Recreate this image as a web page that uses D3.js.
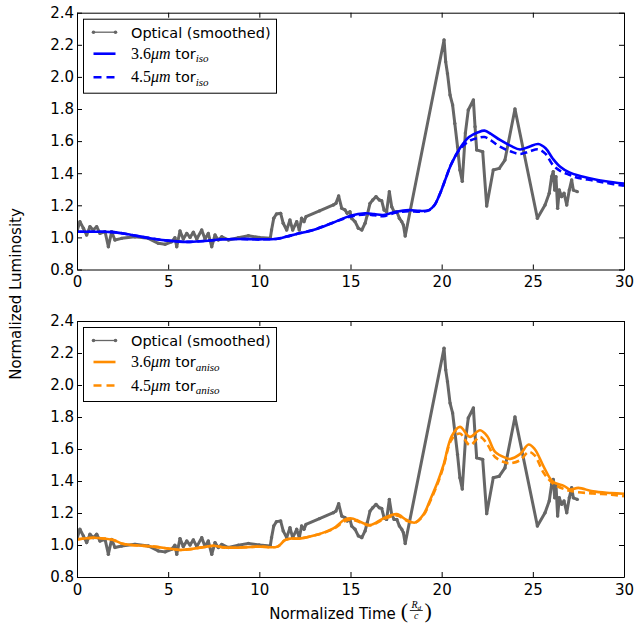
<!DOCTYPE html>
<html>
<head>
<meta charset="utf-8">
<script src="https://cdn.jsdelivr.net/npm/d3@7"></script>
<style>
  html, body { margin: 0; padding: 0; background: #fff; }
  svg text { font-family: "DejaVu Sans", sans-serif; fill: #000; }
</style>
</head>
<body>
<svg id="chart" width="636" height="624"></svg>
<script>
// Optical light curve (smoothed): [time, luminosity]
const optical = [
  [0,1.04],[0.16,1.098],[0.35,1.057],[0.53,1.015],[0.71,1.067],[0.89,1.046],[1.08,1.067],[1.26,1.025],
  [1.54,1.035],[1.72,0.942],[1.90,1.035],[2.08,0.984],[2.45,0.994],[3.18,1.004],[3.91,0.994],[4.46,0.963],
  [4.83,0.957],[5.19,0.973],[5.37,0.998],[5.47,0.942],[5.65,1.04],[5.83,0.99],[6.02,1.025],[6.20,1.0],
  [6.38,1.032],[6.57,0.99],[6.84,1.046],[7.02,0.99],[7.20,1.025],[7.39,0.942],[7.57,1.015],[7.75,0.984],
  [7.94,1.004],[8.30,0.984],[8.85,0.998],[9.40,1.01],[10.0,1.0],[10.6,0.994],[10.67,1.046],[10.79,1.119],
  [10.94,1.146],[11.17,1.15],[11.31,1.088],[11.50,1.046],[11.68,1.108],[11.83,1.046],[12.05,1.098],[12.19,1.046],
  [12.32,1.119],[12.45,1.098],[12.56,1.129],[13.3,1.165],[14.06,1.202],[14.20,1.212],[14.35,1.258],[14.52,1.181],
  [14.70,1.171],[14.82,1.15],[14.97,1.16],[15.06,1.119],[15.25,1.098],[15.43,1.057],[15.62,1.046],[15.80,1.088],
  [15.92,1.14],[16.07,1.212],[16.22,1.233],[16.40,1.254],[16.58,1.233],[16.71,1.229],[16.84,1.171],[16.98,1.16],
  [17.13,1.285],[17.26,1.191],[17.39,1.16],[17.54,1.16],[17.68,1.119],[17.81,1.098],[17.90,1.077],[18.0,1.009],
  [20.13,2.23],[20.22,2.095],[20.32,2.02],[20.46,1.887],[20.60,1.825],[20.72,1.71],[20.87,1.565],[21.0,1.42],
  [21.13,1.35],[21.3,1.65],[21.46,1.794],[21.74,1.856],[21.83,1.69],[21.92,1.545],[22.25,1.534],[22.47,1.196],
  [22.83,1.42],[23.16,1.43],[23.47,1.482],[24.02,1.8],[25.25,1.119],[25.67,1.202],[25.90,1.275],[26.03,1.378],
  [26.12,1.41],[26.2,1.295],[26.27,1.378],[26.36,1.181],[26.45,1.295],[26.58,1.254],[26.71,1.275],[26.86,1.202],
  [27.0,1.295],[27.13,1.358],[27.22,1.295],[27.44,1.285]
];

// Isotropic torus model, 3.6 and 4.5 micron
const isoTime = [0,1,2,3,4,5,6,7,8,9,10,11,11.5,12,13,14,15,15.8,16.3,16.8,17.5,18.2,18.8,19.3,19.6,19.9,20.2,20.5,
  21,21.5,22,22.35,22.7,23.2,23.8,24.3,24.8,25.3,25.7,26.1,26.5,27,27.5,28.3,29,30];
const iso36 = [1.035,1.035,1.033,1.015,0.995,0.98,0.972,0.978,0.988,0.99,0.988,0.992,1.005,1.02,1.048,1.09,1.135,
  1.15,1.145,1.14,1.16,1.17,1.165,1.17,1.2,1.27,1.36,1.45,1.555,1.625,1.655,1.665,1.645,1.607,1.57,1.548,1.565,
  1.582,1.555,1.49,1.44,1.405,1.385,1.364,1.35,1.335];
const iso45 = [1.035,1.035,1.033,1.015,0.995,0.98,0.972,0.978,0.988,0.99,0.988,0.992,1.005,1.02,1.048,1.09,1.13,
  1.143,1.138,1.132,1.155,1.163,1.16,1.168,1.2,1.27,1.36,1.45,1.55,1.6,1.62,1.625,1.605,1.565,1.535,1.52,1.535,
  1.549,1.52,1.451,1.415,1.39,1.37,1.355,1.34,1.322];

// Anisotropic torus model, 3.6 and 4.5 micron
const anisoTime = [0,0.9,1.5,2,2.5,3,4.2,5,5.65,6.3,7.1,7.5,8,8.6,10,11,11.4,11.7,12.2,13.1,14.06,14.7,15.07,15.34,
  16.07,16.8,17.53,18.08,18.54,19,19.36,19.8,20.1,20.55,21,21.55,22.1,22.5,22.93,23.5,23.75,24.3,24.77,25.1,25.6,
  26.1,26.7,27.04,27.5,28.3,29.3,30];
const aniso36 = [1.035,1.045,1.04,1.031,1.008,1.0,0.99,0.978,0.969,0.975,0.99,0.995,0.985,0.983,0.99,0.99,1.03,1.04,
  1.04,1.062,1.104,1.16,1.166,1.156,1.125,1.166,1.193,1.156,1.14,1.19,1.28,1.4,1.5,1.68,1.738,1.676,1.717,1.68,
  1.582,1.545,1.538,1.568,1.628,1.6,1.489,1.395,1.37,1.347,1.357,1.335,1.325,1.32];
const aniso45 = [1.035,1.045,1.04,1.031,1.008,1.0,0.99,0.978,0.969,0.975,0.99,0.995,0.985,0.983,0.99,0.99,1.03,1.04,
  1.04,1.062,1.1,1.15,1.158,1.15,1.122,1.16,1.185,1.152,1.14,1.185,1.27,1.39,1.49,1.66,1.697,1.624,1.676,1.63,
  1.55,1.515,1.51,1.53,1.582,1.56,1.45,1.385,1.35,1.339,1.33,1.322,1.315,1.305];

const xTicks = [0, 5, 10, 15, 20, 25, 30];
const yTicks = [0.8, 1.0, 1.2, 1.4, 1.6, 1.8, 2.0, 2.2, 2.4];

const svg = d3.select("#chart");
const x = d3.scaleLinear().domain([0, 30]).range([77, 624]);
const FS = 15;

const panels = [
  { top: 12.7, bottom: 269.5, color: "#0000ff", sub: "iso", time: isoTime, s36: iso36, s45: iso45 },
  { top: 321, bottom: 577, color: "#ff8c00", sub: "aniso", time: anisoTime, s36: aniso36, s45: aniso45 }
];

panels.forEach(p => {
  const y = d3.scaleLinear().domain([0.8, 2.4]).range([p.bottom, p.top]);
  const g = svg.append("g");

  // clip to axes
  const clipId = "clip-" + p.sub;
  svg.append("clipPath").attr("id", clipId).append("rect")
    .attr("x", x(0)).attr("y", p.top).attr("width", x(30) - x(0)).attr("height", p.bottom - p.top);

  const plot = g.append("g").attr("clip-path", `url(#${clipId})`);

  // optical curve
  const optLine = d3.line().x(d => x(d[0])).y(d => y(d[1]));
  plot.append("path").datum(optical)
    .attr("d", optLine).attr("fill", "none")
    .attr("stroke", "#666").attr("stroke-width", 3).attr("stroke-linejoin", "round");
  plot.selectAll("circle.opt").data(optical).enter().append("circle")
    .attr("class", "opt").attr("cx", d => x(d[0])).attr("cy", d => y(d[1]))
    .attr("r", 1.7).attr("fill", "#666");

  // model curves
  const modelLine = d3.line().x(d => x(d[0])).y(d => y(d[1])).curve(d3.curveCatmullRom.alpha(0.5));
  const s36 = p.time.map((t, i) => [t, p.s36[i]]);
  const s45 = p.time.map((t, i) => [t, p.s45[i]]);
  plot.append("path").datum(s45).attr("d", modelLine).attr("fill", "none")
    .attr("stroke", p.color).attr("stroke-width", 2.6).attr("stroke-dasharray", "7,4");
  plot.append("path").datum(s36).attr("d", modelLine).attr("fill", "none")
    .attr("stroke", p.color).attr("stroke-width", 2.6);

  // axes (ticks inside on all four sides)
  const axB = d3.axisBottom(x).tickValues(xTicks).tickSizeInner(-5).tickSizeOuter(0).tickPadding(7).tickFormat(d3.format("d"));
  const axT = d3.axisTop(x).tickValues(xTicks).tickSizeInner(-5).tickSizeOuter(0).tickFormat("");
  const axL = d3.axisLeft(y).tickValues(yTicks).tickSizeInner(-5).tickSizeOuter(0).tickPadding(3).tickFormat(d3.format(".1f"));
  const axR = d3.axisRight(y).tickValues(yTicks).tickSizeInner(-5).tickSizeOuter(0).tickFormat("");

  [[axB, `translate(0,${p.bottom})`], [axT, `translate(0,${p.top})`],
   [axL, `translate(${x(0)},0)`], [axR, `translate(${x(30)},0)`]].forEach(([ax, tr]) => {
    const a = g.append("g").attr("transform", tr).call(ax);
    a.selectAll("text").style("font-size", FS + "px").style("font-family", "DejaVu Sans, sans-serif");
    a.selectAll("line").attr("stroke", "#000");
    a.select(".domain").attr("stroke", "#000");
  });

  // legend
  const lg = g.append("g").attr("transform", `translate(83.5,${p.top + 6.5})`);
  lg.append("rect").attr("width", 193).attr("height", 74)
    .attr("fill", "#fff").attr("stroke", "#000").attr("stroke-width", 1);
  const rows = [
    { kind: "opt", yy: 13 },
    { kind: "s36", yy: 34.5 },
    { kind: "s45", yy: 58 }
  ];
  rows.forEach(r => {
    const row = lg.append("g").attr("transform", `translate(0,${r.yy})`);
    if (r.kind === "opt") {
      row.append("line").attr("x1", 10).attr("x2", 32).attr("stroke", "#666").attr("stroke-width", 1.3);
      row.append("circle").attr("cx", 10).attr("r", 1.8).attr("fill", "#666");
      row.append("circle").attr("cx", 32).attr("r", 1.8).attr("fill", "#666");
      row.append("text").attr("x", 47.5).attr("y", 5.3).style("font-size", "14.5px").text("Optical (smoothed)");
    } else {
      row.append("line").attr("x1", 10).attr("x2", 32).attr("stroke", p.color).attr("stroke-width", 2.6)
        .attr("stroke-dasharray", r.kind === "s45" ? "8,5" : null);
      const t = row.append("text").attr("x", 47.5).attr("y", 5);
      t.append("tspan").style("font-family", "Liberation Serif, serif").style("font-size", "16px")
        .text(r.kind === "s36" ? "3.6" : "4.5");
      t.append("tspan").style("font-family", "Liberation Serif, serif").style("font-size", "16px")
        .style("font-style", "italic").text("μm");
      t.append("tspan").style("font-size", "14.5px").text(" tor");
      t.append("tspan").style("font-family", "Liberation Serif, serif").style("font-size", "11px")
        .style("font-style", "italic").attr("dy", 3.5).text(p.sub);
    }
  });
});

// y axis label
svg.append("text")
  .attr("transform", "translate(21,294) rotate(-90)")
  .attr("text-anchor", "middle")
  .style("font-size", FS + "px")
  .text("Normalized Luminosity");

// x axis label with fraction R_d / c in parentheses
const xl = svg.append("g");
const main = xl.append("text").attr("x", 0).attr("y", 619).style("font-size", FS + "px").text("Normalized Time");
const mainW = main.node().getComputedTextLength();
const gap = 5;
const fracW = 31;
const startX = 350.5 - (mainW + gap + fracW) / 2;
main.attr("x", startX);
const fx = startX + mainW + gap;
const serif = "Liberation Serif, serif";
xl.append("text").attr("x", fx).attr("y", 618).style("font-family", serif).style("font-size", "22px").text("(");
xl.append("text").attr("x", fx + fracW).attr("y", 618).attr("text-anchor", "end")
  .style("font-family", serif).style("font-size", "22px").text(")");
const fr = xl.append("text").attr("x", fx + 15.5).attr("y", 607.5).attr("text-anchor", "middle")
  .style("font-family", serif).style("font-size", "10px").style("font-style", "italic");
fr.append("tspan").text("R");
fr.append("tspan").attr("dy", 2).style("font-size", "7px").text("d");
xl.append("line").attr("x1", fx + 9).attr("x2", fx + 22).attr("y1", 610.5).attr("y2", 610.5)
  .attr("stroke", "#000").attr("stroke-width", 0.8);
xl.append("text").attr("x", fx + 15.5).attr("y", 619).attr("text-anchor", "middle")
  .style("font-family", serif).style("font-size", "10px").style("font-style", "italic").text("c");
</script>
</body>
</html>
